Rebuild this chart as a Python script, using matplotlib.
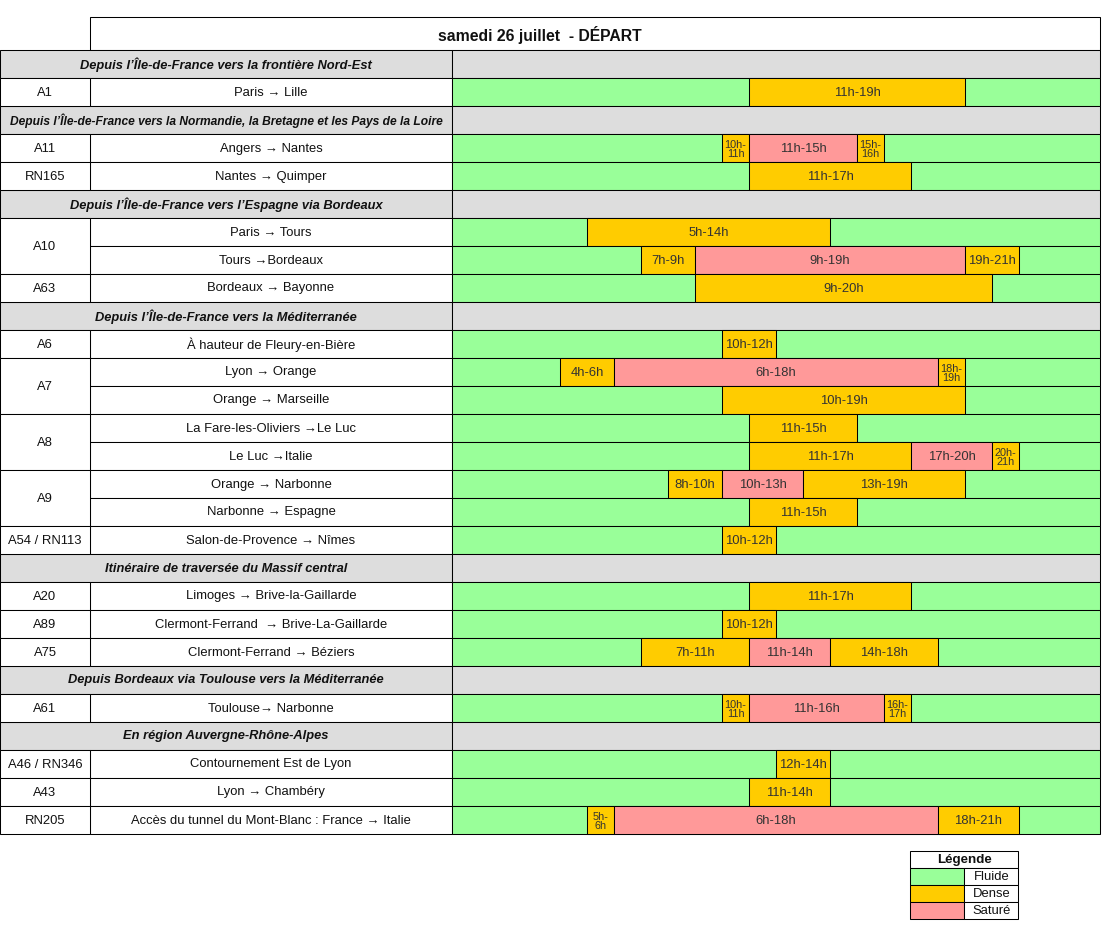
import matplotlib.pyplot as plt
from matplotlib.patches import Rectangle

plt.rcParams['font.family'] = ['Liberation Sans', 'DejaVu Sans']

# ---- donnees ----
titre = "samedi 26 juillet  - DÉPART"

sections = [
    "Depuis l’Île-de-France vers la frontière Nord-Est",
    "Depuis l’Île-de-France vers la Normandie, la Bretagne et les Pays de la Loire",
    "Depuis l’Île-de-France vers l’Espagne via Bordeaux",
    "Depuis l’Île-de-France vers la Méditerranée",
    "Itinéraire de traversée du Massif central",
    "Depuis Bordeaux via Toulouse vers la Méditerranée",
    "En région Auvergne-Rhône-Alpes",
]

row_section = [0, 1, 1, 2, 2, 2, 3, 3, 3, 3, 3, 3, 3, 3, 4, 4, 4, 5, 6, 6, 6]

roads = ["A1", "A11", "RN165", "A10", "A10", "A63", "A6", "A7", "A7", "A8", "A8",
         "A9", "A9", "A54 / RN113", "A20", "A89", "A75", "A61", "A46 / RN346",
         "A43", "RN205"]

routes = [
    "Paris → Lille",
    "Angers → Nantes",
    "Nantes → Quimper",
    "Paris → Tours",
    "Tours →Bordeaux",
    "Bordeaux → Bayonne",
    "À hauteur de Fleury-en-Bière",
    "Lyon → Orange",
    "Orange → Marseille",
    "La Fare-les-Oliviers →Le Luc",
    "Le Luc →Italie",
    "Orange → Narbonne",
    "Narbonne → Espagne",
    "Salon-de-Provence → Nîmes",
    "Limoges → Brive-la-Gaillarde",
    "Clermont-Ferrand  → Brive-La-Gaillarde",
    "Clermont-Ferrand → Béziers",
    "Toulouse→ Narbonne",
    "Contournement Est de Lyon",
    "Lyon → Chambéry",
    "Accès du tunnel du Mont-Blanc : France → Italie",
]

# (debut, fin, niveau)  niveau 1 = dense, 2 = sature
segments = [
    [(11, 19, 1)],
    [(10, 11, 1), (11, 15, 2), (15, 16, 1)],
    [(11, 17, 1)],
    [(5, 14, 1)],
    [(7, 9, 1), (9, 19, 2), (19, 21, 1)],
    [(9, 20, 1)],
    [(10, 12, 1)],
    [(4, 6, 1), (6, 18, 2), (18, 19, 1)],
    [(10, 19, 1)],
    [(11, 15, 1)],
    [(11, 17, 1), (17, 20, 2), (20, 21, 1)],
    [(8, 10, 1), (10, 13, 2), (13, 19, 1)],
    [(11, 15, 1)],
    [(10, 12, 1)],
    [(11, 17, 1)],
    [(10, 12, 1)],
    [(7, 11, 1), (11, 14, 2), (14, 18, 1)],
    [(10, 11, 1), (11, 16, 2), (16, 17, 1)],
    [(12, 14, 1)],
    [(11, 14, 1)],
    [(5, 6, 1), (6, 18, 2), (18, 21, 1)],
]

legend_labels = ["Fluide", "Dense", "Saturé"]
colors = ["#99ff99", "#ffcc00", "#ff9999"]
gris = "#dddddd"

# ---- mise en page ----
W, H = 1106, 948
x_road, x_route, x_time, x_end = 0, 90, 452, 1100
top, rh = 50, 28
lw = 0.75
fs = 9.4
txt = "#111111"

# construction des lignes du tableau
lines = []
prev = None
for i, s in enumerate(row_section):
    if s != prev:
        lines.append(("header", s))
        prev = s
    lines.append(("data", i))
n_rows = len(lines)

fig = plt.figure(figsize=(W / 100, H / 100), dpi=100)
ax = fig.add_axes([0, 0, 1, 1])
ax.set_xlim(0, W)
ax.set_ylim(H, 0)
ax.axis("off")

tl = fig.add_axes([x_time / W, (H - top - n_rows * rh) / H,
                   (x_end - x_time) / W, n_rows * rh / H])
tl.set_xlim(0, 24)
tl.set_ylim(n_rows, 0)
tl.axis("off")

renderer = fig.canvas.get_renderer()


def cell(x0, y0, w, h, fc="white"):
    ax.add_patch(Rectangle((x0, y0), w, h, facecolor=fc, edgecolor="black", lw=lw))


# titre
cell(x_route, 17, x_end - x_route, top - 17)
ax.text(540, (17 + top) / 2 + 1, titre, ha="center", va="center",
        fontsize=11.3, fontweight="bold", color=txt)

# colonnes gauche
for r, (kind, k) in enumerate(lines):
    y0 = top + r * rh
    if kind == "header":
        cell(x_road, y0, x_time - x_road, rh, gris)
        t = ax.text((x_road + x_time) / 2, y0 + rh / 2 + 0.5, sections[k], ha="center",
                    va="center", fontsize=9.3, fontweight="bold", fontstyle="italic",
                    color=txt)
        # reduit le texte s'il deborde de la cellule
        w = t.get_window_extent(renderer).width
        if w > x_time - x_road - 20:
            t.set_fontsize(9.3 * (x_time - x_road - 20) / w)
    else:
        cell(x_route, y0, x_time - x_route, rh)
        ax.text((x_route + x_time) / 2, y0 + rh / 2 + 0.5, routes[k], ha="center",
                va="center", fontsize=fs, color=txt)

# cellules de route fusionnees
r = 0
while r < n_rows:
    kind, k = lines[r]
    if kind == "data":
        span = 1
        while (r + span < n_rows and lines[r + span][0] == "data"
               and roads[lines[r + span][1]] == roads[k]):
            span += 1
        y0 = top + r * rh
        cell(x_road, y0, x_route - x_road, span * rh)
        ax.text((x_road + x_route) / 2, y0 + span * rh / 2 + 0.5, roads[k], ha="center",
                va="center", fontsize=fs, color=txt)
        r += span
    else:
        r += 1

# frise horaire
for r, (kind, k) in enumerate(lines):
    y = r + 0.5
    if kind == "header":
        bars = tl.barh(y, 24, left=0, height=1, color=gris, edgecolor="black", lw=lw)
    else:
        bars = tl.barh(y, 24, left=0, height=1, color=colors[0], edgecolor="black", lw=lw)
        for a, b, lvl in segments[k]:
            bars2 = tl.barh(y, b - a, left=a, height=1, color=colors[lvl],
                            edgecolor="black", lw=lw)
            for p in bars2:
                p.set_clip_on(False)
            if b - a == 1:
                tl.text((a + b) / 2, y + 0.04, f"{a}h-\n{b}h", ha="center", va="center",
                        fontsize=7.8, linespacing=0.9, color="#333333")
            else:
                tl.text((a + b) / 2, y + 0.04, f"{a}h-{b}h", ha="center", va="center",
                        fontsize=fs, color="#333333")
    for p in bars:
        p.set_clip_on(False)

# legende
lx0, lx1, lx2 = 910, 964, 1018
ly0, lrh = 851, 17
cell(lx0, ly0, lx2 - lx0, lrh)
ax.text((lx0 + lx2) / 2, ly0 + lrh / 2 + 0.5, "Légende", ha="center", va="center",
        fontsize=9.6, fontweight="bold", color=txt)
for i, (lab, c) in enumerate(zip(legend_labels, colors)):
    y0 = ly0 + (i + 1) * lrh
    cell(lx0, y0, lx1 - lx0, lrh, c)
    cell(lx1, y0, lx2 - lx1, lrh)
    ax.text((lx1 + lx2) / 2 + 1, y0 + lrh / 2 + 0.5, lab, ha="center", va="center",
            fontsize=fs, color=txt)

fig.savefig("out.png", dpi=100)
